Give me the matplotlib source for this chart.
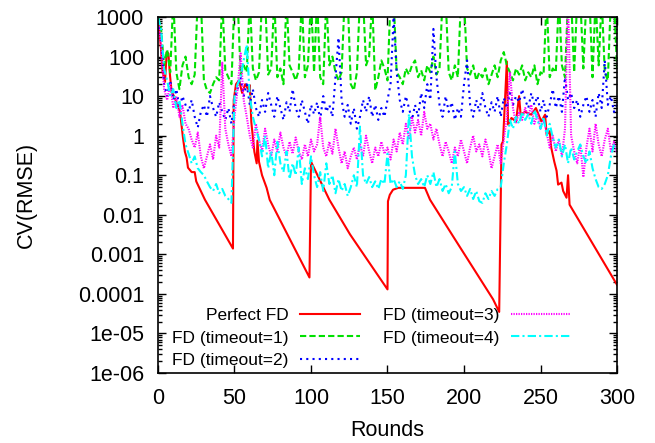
import matplotlib

matplotlib.use("Agg")

import matplotlib.pyplot as plt
import numpy as np
from matplotlib.ticker import FixedLocator, LogLocator, NullFormatter

plt.rcParams["font.family"] = ["Liberation Sans", "DejaVu Sans"]

# rounds sampled every 2 for the noisy detectors
rounds = list(range(0, 301, 2))

timeout1 = [
    1000, 500, 60, 150, 40, 3000, 40, 15, 60, 100,
    30, 20, 35, 3000, 3000, 25, 14, 12, 20, 30,
    25, 3000, 45, 30, 20, 3000, 3000, 35, 60, 40,
    3000, 50, 25, 40, 3000, 3000, 35, 50, 3000, 30,
    50, 20, 3000, 60, 40, 25, 45, 3000, 30, 60,
    3000, 40, 3000, 30, 20, 3000, 60, 100, 40, 25,
    40, 3000, 3000, 20, 14, 40, 3000, 3000, 60, 100,
    3000, 14, 30, 80, 50, 25, 3000, 3000, 40, 30,
    20, 50, 35, 60, 80, 30, 45, 25, 60, 40,
    100, 35, 50, 3000, 3000, 40, 25, 60, 30, 3000,
    3000, 50, 35, 60, 25, 40, 30, 50, 20, 35,
    60, 30, 80, 130, 60, 40, 25, 50, 35, 60,
    25, 40, 30, 60, 20, 40, 35, 3000, 30, 50,
    40, 3000, 60, 30, 3000, 3000, 40, 3000, 3000, 50,
    3000, 3000, 30, 3000, 60, 3000, 40, 25, 3000, 3000,
    50,
]

timeout2 = [
    800, 300, 20, 10, 25, 8, 15, 5, 10, 6,
    4, 8, 3, 1.6, 4, 6, 3, 10, 5, 3,
    7, 4, 2.5, 5, 2, 8, 15, 30, 10, 20,
    6, 15, 5, 3, 8, 4, 12, 6, 3, 10,
    5, 2.5, 7, 4, 15, 5, 3, 8, 4, 2,
    6, 3.5, 7, 2.5, 10, 4, 6, 3, 30, 300,
    8, 3, 6, 2, 5, 1.5, 3, 8, 4, 10,
    3, 6, 2.5, 5, 3, 8, 20, 1000, 40, 8,
    4, 10, 5, 2.5, 6, 3, 12, 5, 20, 8,
    500, 30, 6, 3, 10, 4, 7, 2.5, 5, 3,
    20, 80, 6, 3, 8, 4, 12, 5, 3, 7,
    4, 10, 3, 9, 5, 12, 6, 10, 7, 15,
    8, 5, 12, 6, 10, 4, 8, 3, 6, 15,
    5, 10, 4, 30, 8, 12, 5, 8, 3, 6,
    10, 4, 8, 3, 12, 5, 80, 6, 10, 4,
    6,
]

timeout3 = [
    900, 200, 15, 8, 20, 5, 10, 3, 6, 2,
    1.5, 0.8, 0.5, 1.2, 0.3, 0.15, 0.3, 0.6, 0.25, 1.0,
    0.5, 70, 1.5, 0.6, 0.3, 3, 15, 120, 8, 3,
    1.0, 0.5, 2, 0.8, 0.4, 1.5, 0.6, 0.3, 0.8, 0.4,
    1.2, 0.5, 0.3, 0.7, 0.35, 0.9, 0.4, 0.25, 0.6, 0.3,
    0.8, 0.4, 0.6, 3, 0.5, 0.3, 0.7, 0.35, 1.5, 0.5,
    0.2, 0.4, 0.15, 0.3, 0.5, 0.25, 0.6, 0.3, 1.0, 0.4,
    0.2, 0.5, 0.3, 0.7, 0.35, 0.5, 0.25, 0.8, 0.4, 1.2,
    0.6, 2, 0.8, 3, 1.2, 2.5, 1.0, 4, 1.5, 2,
    0.8, 1.5, 0.6, 0.3, 0.7, 0.4, 0.2, 0.5, 0.3, 0.8,
    0.4, 0.2, 0.5, 1.0, 0.4, 0.6, 0.3, 0.8, 0.4, 0.15,
    0.3, 0.6, 0.2, 0.8, 3, 40, 5, 2, 4, 2.5,
    5, 3, 6, 2, 3.5, 1.5, 2.5, 1.2, 0.5, 1.0,
    0.4, 0.8, 0.3, 1.5, 3000, 1.0, 0.4, 0.2, 0.6, 0.09,
    0.5, 1.5, 0.4, 2, 0.6, 0.3, 0.8, 1.5, 0.4, 0.7,
    0.35,
]

timeout4 = [
    1000, 500, 50, 25, 10, 15, 5, 8, 2, 0.6,
    0.35, 0.2, 0.3, 0.15, 0.12, 0.1, 0.07, 0.05, 0.04, 0.06,
    0.035, 0.045, 0.03, 0.025, 0.02, 10, 20, 30, 80, 200,
    10, 3, 1.5, 0.8, 0.3, 1.0, 0.15, 0.4, 0.1, 0.7,
    0.2, 0.12, 0.4, 0.08, 0.2, 0.1, 0.5, 0.06, 0.15, 0.08,
    0.3, 0.1, 0.05, 0.12, 0.04, 0.2, 0.06, 0.1, 0.035, 0.08,
    0.04, 0.06, 0.03, 0.05, 0.1, 0.05, 1.7, 0.1, 0.06, 0.09,
    0.05, 0.07, 0.045, 0.08, 0.06, 0.35, 0.06, 0.08, 0.05, 0.07,
    0.045, 0.1, 3.5, 0.3, 0.1, 0.06, 0.08, 0.05, 0.1, 0.06,
    0.12, 0.05, 0.08, 0.04, 0.06, 0.035, 0.05, 0.4, 0.06, 0.04,
    0.05, 0.03, 0.045, 0.025, 0.04, 0.022, 0.02, 0.035, 0.025, 0.04,
    0.03, 0.045, 0.05, 0.2, 0.6, 2.5, 1.5, 3, 2, 4,
    2.5, 3.5, 2, 4.5, 2.5, 1.5, 3, 1.0, 2, 0.9,
    0.5, 0.8, 0.3, 0.6, 0.2, 0.5, 0.25, 0.4, 0.6, 0.3,
    0.2, 0.4, 0.15, 0.08, 0.05, 0.045, 0.06, 0.1, 0.3, 0.6,
    0.5,
]

# perfect detector: read at its breakpoints
perfect_rounds = [
    0, 2, 3, 4.6, 5.7, 6.8, 7.8, 8.9, 11, 14.4,
    16.3, 17.6, 18.7, 19.6, 22, 24, 25, 30.7, 49, 49.5,
    51, 53, 55, 57, 59, 60, 61, 63, 64.5, 65,
    66, 68, 71, 73, 99, 100, 112, 125.5, 150, 150.3,
    151.5, 153.6, 157, 174.5, 177.8, 193, 219, 223, 224.5, 225.5,
    228, 228.8, 231, 234, 236, 237, 240, 244, 247, 250.5,
    253, 254, 256, 257, 259, 260.5, 261.5, 263.7, 264.8, 267,
    268, 269, 300,
]
perfect = [
    1000, 150, 40, 23, 130, 120, 35, 13, 9, 4,
    0.9, 0.39, 0.28, 0.155, 0.12, 0.12, 0.07, 0.024, 0.0014, 8,
    20, 25, 12, 20, 15, 19, 2.2, 0.39, 0.2, 0.75,
    0.22, 0.1, 0.048, 0.024, 0.00026, 0.22, 0.024, 0.0032, 0.00013, 0.022,
    0.032, 0.043, 0.048, 0.048, 0.024, 0.0028, 0.000073, 0.000035, 0.6, 0.72,
    75, 1.9, 2.8, 2.3, 10, 3.4, 4, 3.4, 5, 2.3,
    3.4, 1.06, 1.3, 0.5, 0.22, 0.13, 0.058, 0.065, 0.04, 0.027,
    0.1, 0.018, 0.00017,
]

y_ticks = [1e3, 1e2, 1e1, 1, 0.1, 0.01, 0.001, 0.0001, 1e-5, 1e-6]
y_tick_labels = ["1000", "100", "10", "1", "0.1", "0.01", "0.001", "0.0001", "1e-05", "1e-06"]
x_ticks = [0, 50, 100, 150, 200, 250, 300]

fig = plt.figure(figsize=(6.55, 4.43), dpi=100)
ax = fig.add_axes([0.2412, 0.158, 0.7008, 0.8036])

lw = 1.5
ax.plot(perfect_rounds, perfect, color="#ff0000", lw=lw, label="Perfect FD")
ax.plot(rounds, timeout1, color="#00e000", lw=lw, dashes=(3, 1.5), label="FD (timeout=1)")
ax.plot(rounds, timeout2, color="#0000ff", lw=lw, dashes=(1, 2), label="FD (timeout=2)")
ax.plot(rounds, timeout3, color="#ff00ff", lw=lw, dashes=(0.6, 0.6), label="FD (timeout=3)")
ax.plot(rounds, timeout4, color="#00ffff", lw=lw, dashes=(4, 1.5, 1, 1.5), label="FD (timeout=4)")

ax.set_yscale("log")
ax.set_xlim(0, 300)
ax.set_ylim(1e-6, 1e3)
ax.yaxis.set_major_locator(FixedLocator(y_ticks))
ax.set_yticklabels(y_tick_labels)
ax.yaxis.set_minor_locator(LogLocator(base=10, subs=np.arange(2, 10)))
ax.yaxis.set_minor_formatter(NullFormatter())
ax.set_xticks(x_ticks)

ax.tick_params(which="both", direction="in", top=True, right=True, labelsize=15.5)
ax.tick_params(which="major", length=6, width=1)
ax.tick_params(which="minor", length=3, width=1)
ax.tick_params(axis="y", pad=10)
ax.tick_params(axis="x", pad=10.5)
for spine in ax.spines.values():
    spine.set_linewidth(1.2)

fig.text(0.041, 0.56, "CV(RMSE)", rotation=90, ha="center", va="center", fontsize=15.5)
fig.text(0.5916, 0.029, "Rounds", ha="center", va="center", fontsize=15.5)

ax.legend(
    ncol=2,
    loc="lower left",
    bbox_to_anchor=(0.03, 0.015),
    frameon=False,
    markerfirst=False,
    fontsize=12.5,
    handlelength=3.5,
    handletextpad=0.65,
    columnspacing=1.3,
    labelspacing=0.4,
    borderpad=0,
    borderaxespad=0,
)

fig.savefig("out.png", dpi=100)
